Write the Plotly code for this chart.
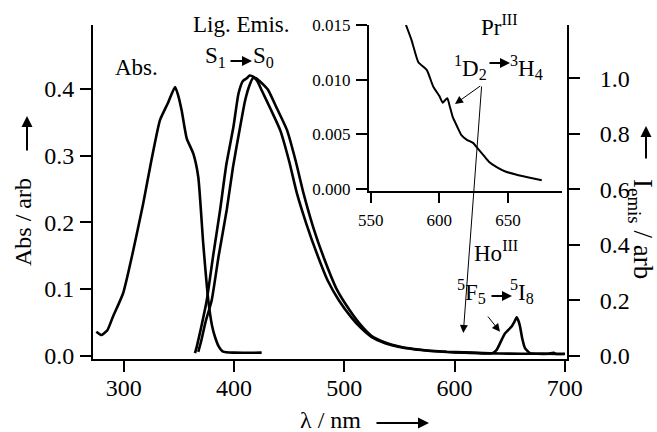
import plotly.graph_objects as go

# ---------------- data ----------------
abs_wl = [275, 279.7, 285, 290, 299.4, 308, 317.5, 325, 332.7, 340, 346.4, 349,
          352.4, 357, 363, 367.5, 372, 376.6, 380, 382.7, 386, 390, 400, 425]
abs_val = [0.036, 0.031, 0.038, 0.058, 0.094, 0.154, 0.228, 0.293, 0.353, 0.379,
           0.403, 0.392, 0.368, 0.326, 0.303, 0.268, 0.168, 0.083, 0.045, 0.028,
           0.014, 0.006, 0.0045, 0.0045]

emA_wl = [364.5, 366, 370, 375.2, 381, 387.3, 393, 399.4, 404, 408, 411.5, 414,
          417.6, 421, 425, 433, 441.8, 450, 457, 466, 475, 485, 495, 506, 515,
          524.5, 537, 548.8, 563, 578, 593, 608.5, 620, 632.7, 640, 660, 680, 700]
emA_val = [0.009, 0.03, 0.1, 0.2, 0.36, 0.525, 0.69, 0.825, 0.945, 0.99, 1.0,
           1.01, 1.005, 0.99, 0.957, 0.89, 0.813, 0.70, 0.585, 0.47, 0.369, 0.27,
           0.2, 0.14, 0.1, 0.068, 0.045, 0.032, 0.023, 0.017, 0.013, 0.011,
           0.0095, 0.0086, 0.008, 0.007, 0.007, 0.006]

emB_wl = [367.5, 370, 374, 379.7, 386, 393.3, 399, 405.5, 410, 414.5, 417, 420,
          423, 427, 431, 439, 448, 456, 463, 472, 481.2, 493.4, 505.5, 515, 524.5,
          537, 548.8, 563, 578, 593, 608.5, 620, 633.6, 638, 642.7, 645.7, 651.8,
          654, 656.4, 658, 659.4, 661.5, 663.9, 668.5, 675, 685, 690, 692, 700]
emB_val = [0.014, 0.05, 0.12, 0.2, 0.36, 0.525, 0.68, 0.825, 0.92, 0.98, 1.0,
           1.0, 0.99, 0.975, 0.957, 0.89, 0.813, 0.70, 0.585, 0.46, 0.355, 0.237,
           0.16, 0.11, 0.072, 0.048, 0.034, 0.024, 0.018, 0.014, 0.012, 0.010,
           0.008, 0.02, 0.057, 0.08, 0.105, 0.12, 0.138, 0.125, 0.105, 0.06,
           0.027, 0.009, 0.007, 0.007, 0.01, 0.006, 0.007]

pr_wl = [575.7, 579.8, 584.7, 590.8, 595.6, 600, 602.4, 604, 605.8, 607.7, 609.7,
         613, 616.2, 620, 624.7, 628, 632, 636, 641.7, 648, 656.3, 665, 674.5]
pr_val = [0.015, 0.0136, 0.0116, 0.0109, 0.00935, 0.0085, 0.0079, 0.0081, 0.0083,
          0.0075, 0.0066, 0.0057, 0.0049, 0.0045, 0.0042, 0.0037, 0.0031, 0.0025,
          0.0020, 0.0016, 0.0013, 0.00105, 0.0008]

x_ticks = [300, 400, 500, 600, 700]
y_ticks = [0.0, 0.1, 0.2, 0.3, 0.4]
y2_ticks = [0.0, 0.2, 0.4, 0.6, 0.8, 1.0]
x3_ticks = [550, 600, 650]
y3_ticks = [0.000, 0.005, 0.010, 0.015]

# ---------------- figure ----------------
W, H = 657, 432
ML, MR, MT, MB = 93, 90, 25, 73
PW, PH = W - ML - MR, H - MT - MB
FONT = "Liberation Serif, Times New Roman, serif"


def px(xp):
    return (xp - ML) / PW


def py(yp):
    return (H - MB - yp) / PH


line = dict(color="black", width=2.6, shape="spline", smoothing=0.5)
fig = go.Figure()
fig.add_trace(go.Scatter(x=abs_wl, y=abs_val, mode="lines", line=line,
                         xaxis="x", yaxis="y"))
fig.add_trace(go.Scatter(x=emA_wl, y=emA_val, mode="lines", line=line,
                         xaxis="x", yaxis="y2"))
fig.add_trace(go.Scatter(x=emB_wl, y=emB_val, mode="lines", line=line,
                         xaxis="x", yaxis="y2"))
fig.add_trace(go.Scatter(x=pr_wl, y=pr_val, mode="lines",
                         line=dict(color="black", width=2, shape="spline", smoothing=0.5),
                         xaxis="x3", yaxis="y3"))

ax_common = dict(showline=True, linecolor="black", linewidth=2, ticks="outside",
                 tickcolor="black", tickwidth=2, showgrid=False, zeroline=False,
                 automargin=False,
                 tickfont=dict(family=FONT, size=24, color="black"))
small = dict(family=FONT, size=17, color="black")

fig.update_layout(
    width=W, height=H, margin=dict(l=ML, r=MR, t=MT, b=MB),
    paper_bgcolor="white", plot_bgcolor="rgba(0,0,0,0)", showlegend=False,
    font=dict(family=FONT, color="black"),
    xaxis=dict(**ax_common, range=[272, 702], domain=[0, 1], anchor="y",
               tickvals=x_ticks, ticklen=11, ticklabelstandoff=-5),
    yaxis=dict(**ax_common, range=[-0.005, 0.496], anchor="x",
               tickvals=y_ticks, tickformat=".1f", ticklen=11, ticklabelstandoff=1),
    yaxis2=dict(**ax_common, range=[-0.012, 1.192], overlaying="y", side="right",
                anchor="x", tickvals=y2_ticks, tickformat=".1f", ticklen=11,
                ticklabelstandoff=15),
    xaxis3=dict(**{**ax_common, "tickfont": small},
                range=[548.8, 689], domain=[px(369), px(561.7)], anchor="y3",
                tickvals=x3_ticks, ticklen=10, ticklabelstandoff=3),
    yaxis3=dict(**{**ax_common, "tickfont": small},
                range=[-0.00018, 0.015], domain=[py(191), 1.0], anchor="x3",
                tickvals=y3_ticks, tickformat=".3f", ticklen=11, ticklabelstandoff=2),
)


def text(s, x, y, size=23, angle=0):
    fig.add_annotation(text=s, x=px(x), y=py(y), xref="paper", yref="paper",
                       showarrow=False, textangle=angle, xanchor="center",
                       yanchor="middle", font=dict(family=FONT, size=size, color="black"))


def arrow(x_head, y_head, x_tail, y_tail, width=2, head=2, size=1.0):
    fig.add_annotation(text="", x=px(x_head), y=py(y_head), xref="paper", yref="paper",
                       ax=x_tail - x_head, ay=y_tail - y_head, showarrow=True,
                       arrowhead=head, arrowwidth=width, arrowsize=size,
                       arrowcolor="black")


# axis titles
text("Abs / arb", 23, 222, size=24, angle=-90)
arrow(27, 116, 27, 152, width=2, size=1.1)
text("I<sub>emis</sub> / arb", 641, 229, size=27, angle=90)
arrow(646, 126, 646, 160, width=2, size=1.1)
text("λ / nm", 330, 420, size=24)
arrow(429, 423, 375, 423, width=2, size=1.1)

# labels
text("Abs.", 136, 67)
text("Lig. Emis.", 241, 24)
text("S<sub>1</sub>", 215, 57)
text("S<sub>0</sub>", 263, 57)
arrow(252, 61, 229, 61, width=2, size=1.0)

text("Pr<sup>III</sup>", 499, 25)
text("<sup>1</sup>D<sub>2</sub>", 470, 67)
text("<sup>3</sup>H<sub>4</sub>", 526, 67)
arrow(510, 63, 488, 63, width=2, size=1.0)
arrow(455, 104, 481.7, 85, width=1, size=1.6)
arrow(463.3, 333, 481.7, 85, width=1, size=1.6)

text("Ho<sup>III</sup>", 496, 251)
text("<sup>5</sup>F<sub>5</sub>", 471, 291)
text("<sup>5</sup>I<sub>8</sub>", 522, 291)
arrow(512, 296, 490, 296, width=2, size=1.0)
arrow(500, 331.7, 486.7, 315, width=1, size=1.6)

fig.write_html("out.html", config={"displayModeBar": False},
               post_script="document.body.style.margin='0';"
                           "document.body.style.padding='0';")
